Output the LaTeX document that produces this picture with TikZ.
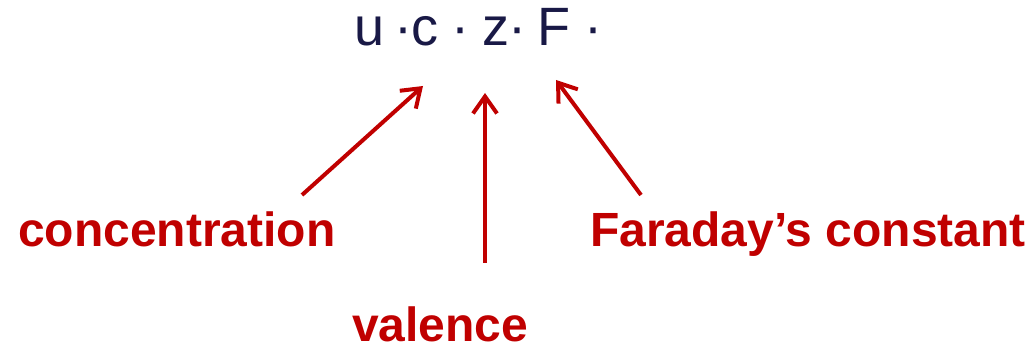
\documentclass[tikz,border=0pt]{standalone}
\usepackage{fontspec}
\setmainfont{Liberation Sans}
\usetikzlibrary{arrows.meta}
\definecolor{navy}{RGB}{25,25,70}
\definecolor{darkred}{RGB}{192,0,0}
\begin{document}
\begin{tikzpicture}[x=1pt,y=-1pt,
  sym/.style={inner sep=0pt,text=navy,font=\fontsize{54}{60}\selectfont},
  lbl/.style={inner sep=0pt,anchor=base west,text=darkred,font=\fontsize{48}{56}\selectfont\bfseries},
  arr/.style={draw=darkred,line width=4pt,-{Straight Barb[length=17pt,width=24pt]}}]
\useasboundingbox (0,0) rectangle (1034,347);
% formula
\node[sym,anchor=base west] (u) at (354,46) {u};
\node[sym,anchor=base] (d1) at (403,46) {·};
\node[sym,anchor=base west] (c) at (411,46) {c};
\node[sym,anchor=base] (d2) at (460,46) {·};
\node[sym,anchor=base west] (z) at (482,46) {z};
\node[sym,anchor=base] (d3) at (517,46) {·};
\node[sym,anchor=base west] (F) at (537,46) {F};
\node[sym,anchor=base] (d4) at (593,46) {·};
% labels
\node[lbl] (conc) at (18,247) {concentration};
\node[lbl] (val) at (352,342) {valence};
\node[lbl] (far) at (590,247) {Faraday’s constant};
% arrow ends
\coordinate (a1s) at (302,195);
\coordinate (a1e) at (423,86);
\coordinate (a2s) at (485,263);
\coordinate (a2e) at (485,93);
\coordinate (a3s) at (641,195);
\coordinate (a3e) at (556,80);
\draw[arr] (a1s) -- (a1e);
\draw[arr] (a2s) -- (a2e);
\draw[arr] (a3s) -- (a3e);
\end{tikzpicture}
\end{document}
